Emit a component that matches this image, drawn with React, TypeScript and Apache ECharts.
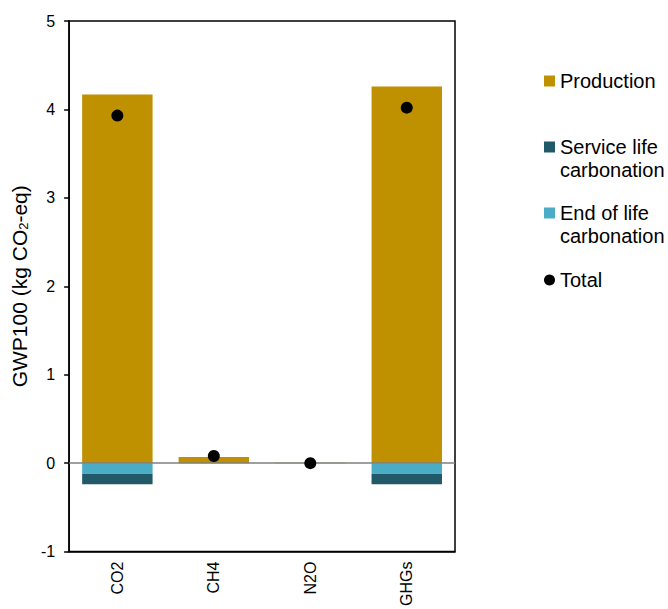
import React, { useEffect, useRef } from "react";
import * as echarts from "echarts";

const categories = ["CO2", "CH4", "N2O", "GHGs"];
const production = [4.17, 0.07, 0.005, 4.26];
const serviceLife = [-0.12, 0, 0, -0.12];
const endOfLife = [-0.12, 0, 0, -0.12];
const total = [3.93, 0.08, 0.0, 4.02];
const yTicks = [-1, 0, 1, 2, 3, 4, 5];

const C_PROD = "#BF9000";
const C_SERV = "#215968";
const C_END = "#4BACC6";

export default function App() {
  const ref = useRef<HTMLDivElement>(null);
  useEffect(() => {
    if (!ref.current) return;
    const chart = echarts.init(ref.current, null, { renderer: "svg" });
    const font = "'Liberation Sans', Arial, sans-serif";
    const LH = 23;
    const legendItem = (name: string, iconCenter: number, icon: string, twoLine: boolean) => ({
      show: true,
      data: [{ name, icon }],
      orient: "vertical" as const,
      left: 544,
      top: twoLine ? iconCenter - LH * 1.5 : iconCenter - LH / 2,
      itemWidth: 11,
      itemHeight: 11,
      itemGap: 4,
      padding: 0,
      selectedMode: false,
      formatter: (n: string) => (twoLine ? "\n" + n : n),
      textStyle: {
        fontFamily: font,
        fontSize: 20,
        color: "#000",
        lineHeight: LH,
      },
    });
    chart.setOption({
      animation: false,
      backgroundColor: "#fff",
      textStyle: { fontFamily: font },
      grid: {
        left: 68,
        top: 21,
        width: 387,
        height: 537,
        show: true,
        borderColor: "#000",
        borderWidth: 1.5,
        containLabel: false,
      },
      legend: [
        legendItem("Production", 81, "rect", false),
        legendItem("Service life\ncarbonation", 147, "rect", true),
        legendItem("End of life\ncarbonation", 213, "rect", true),
        legendItem("Total", 280, "circle", false),
      ],
      xAxis: {
        type: "category",
        data: categories,
        position: "bottom",
        axisLine: { show: true, onZero: false, lineStyle: { color: "#000", width: 1.5 } },
        axisTick: { show: false },
        axisLabel: {
          rotate: 90,
          margin: 10,
          fontSize: 16,
          color: "#000",
          fontFamily: font,
        },
      },
      yAxis: {
        type: "value",
        min: -1,
        max: 5,
        interval: 1,
        splitLine: { show: false },
        axisLine: { show: true, lineStyle: { color: "#000", width: 1.5 } },
        axisTick: { show: true, inside: false, length: 5, lineStyle: { color: "#000", width: 1.5 } },
        axisLabel: {
          fontSize: 16,
          color: "#000",
          margin: 14,
          fontFamily: font,
          formatter: (v: number) => (yTicks.includes(v) ? String(v) : ""),
        },
        name: "{a|GWP100 (kg CO}{s|2}{a|-eq)}",
        nameLocation: "middle",
        nameGap: 34,
        nameRotate: 90,
        nameTextStyle: {
          rich: {
            a: { fontSize: 21, color: "#000", fontFamily: font, lineHeight: 24 },
            s: { fontSize: 13, color: "#000", fontFamily: font, lineHeight: 24, padding: [9, 0, 0, 0] },
          },
        },
      },
      series: [
        {
          name: "Production",
          type: "bar",
          stack: "g",
          data: production,
          barCategoryGap: "27%",
          itemStyle: { color: C_PROD },
          markLine: {
            silent: true,
            symbol: "none",
            label: { show: false },
            lineStyle: { color: "#7f7f7f", width: 1.5, type: "solid" },
            data: [{ yAxis: 0 }],
          },
        },
        {
          name: "End of life\ncarbonation",
          type: "bar",
          stack: "g",
          data: endOfLife,
          itemStyle: { color: C_END },
        },
        {
          name: "Service life\ncarbonation",
          type: "bar",
          stack: "g",
          data: serviceLife,
          itemStyle: { color: C_SERV },
        },
        {
          name: "Total",
          type: "scatter",
          data: total,
          symbol: "circle",
          symbolSize: 12,
          itemStyle: { color: "#000", opacity: 1 },
          z: 5,
        },
      ],
    });
    return () => chart.dispose();
  }, []);
  return <div ref={ref} style={{ position: "fixed", left: 0, top: 0, width: 668, height: 609 }} />;
}
